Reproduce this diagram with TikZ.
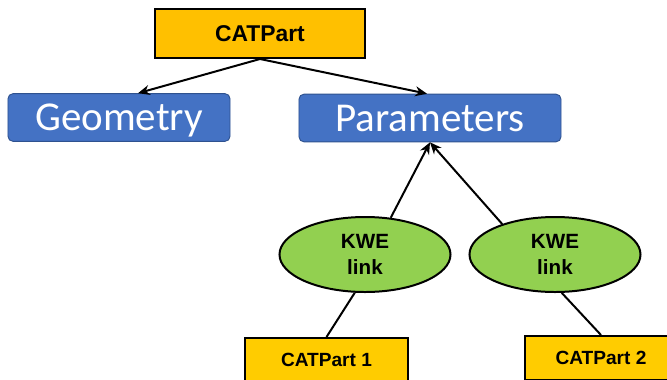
\documentclass[tikz,border=0pt]{standalone}
\usepackage{fontspec}
\setmainfont{Liberation Sans}
\newfontfamily\calibri{Carlito}
\usepackage{tikz}
\usetikzlibrary{positioning,shapes,arrows.meta}
\definecolor{partyellow}{HTML}{FFC000}
\definecolor{subyellow}{HTML}{FFCC00}
\definecolor{boxblue}{HTML}{4472C4}
\definecolor{boxedge}{HTML}{2F528F}
\definecolor{kwegreen}{HTML}{92D050}

\begin{document}
\begin{tikzpicture}
            [x=0.03cm,y=-0.03cm,line width=1.7pt,>={Stealth[length=10pt,width=8.5pt]},
             part/.style={draw, fill=partyellow, inner sep=0pt, minimum height=1.47cm, font=\bfseries\fontsize{19.5}{22}\selectfont},
             subpart/.style={draw, fill=subyellow, inner sep=0pt, minimum height=1.32cm, font=\bfseries\fontsize{16.3}{19}\selectfont},
             group/.style={draw=boxedge, line width=0.8pt, fill=boxblue, text=white, rounded corners=0.15cm, inner sep=0pt, minimum height=1.43cm, text height=0.78cm, text depth=0pt, font=\calibri\fontsize{35}{40}\selectfont},
             kwe/.style={draw, ellipse, fill=kwegreen, inner sep=0pt, minimum width=5.13cm, minimum height=2.25cm, align=center, font=\bfseries\fontsize{17.6}{22}\selectfont}]
          \clip (0,0) rectangle (667,379);

          \node[part, minimum width=6.3cm] (top) at (260,33.5) {CATPart};
          \node[group, minimum width=6.66cm] (geo) at (119,117.5) {Geometry};
          \node[group, minimum width=7.86cm] (par) at (430,118) {Parameters};

          \node[kwe] (kwe1) at (365,254.5) {KWE\\link};
          \node[kwe] (kwe2) at (555,254.5) {KWE\\link};

          \node[subpart, minimum width=4.89cm] (part1) at (326.5,360) {CATPart 1};
          \node[subpart, minimum width=4.56cm] (part2) at (601,358) {CATPart 2};

          \draw[->] (top.south) -- ([xshift=0.57cm]geo.north);
          \draw[->] (top.south) -- ([xshift=-0.09cm]par.north);
          \foreach \from in {kwe1.55, kwe2.150}
            \draw (\from) edge[->] (par.south);
          \draw (kwe1.-105) -- (part1.north);
          \draw (kwe2.-80) -- (part2.north);
        \end{tikzpicture}
\end{document}
